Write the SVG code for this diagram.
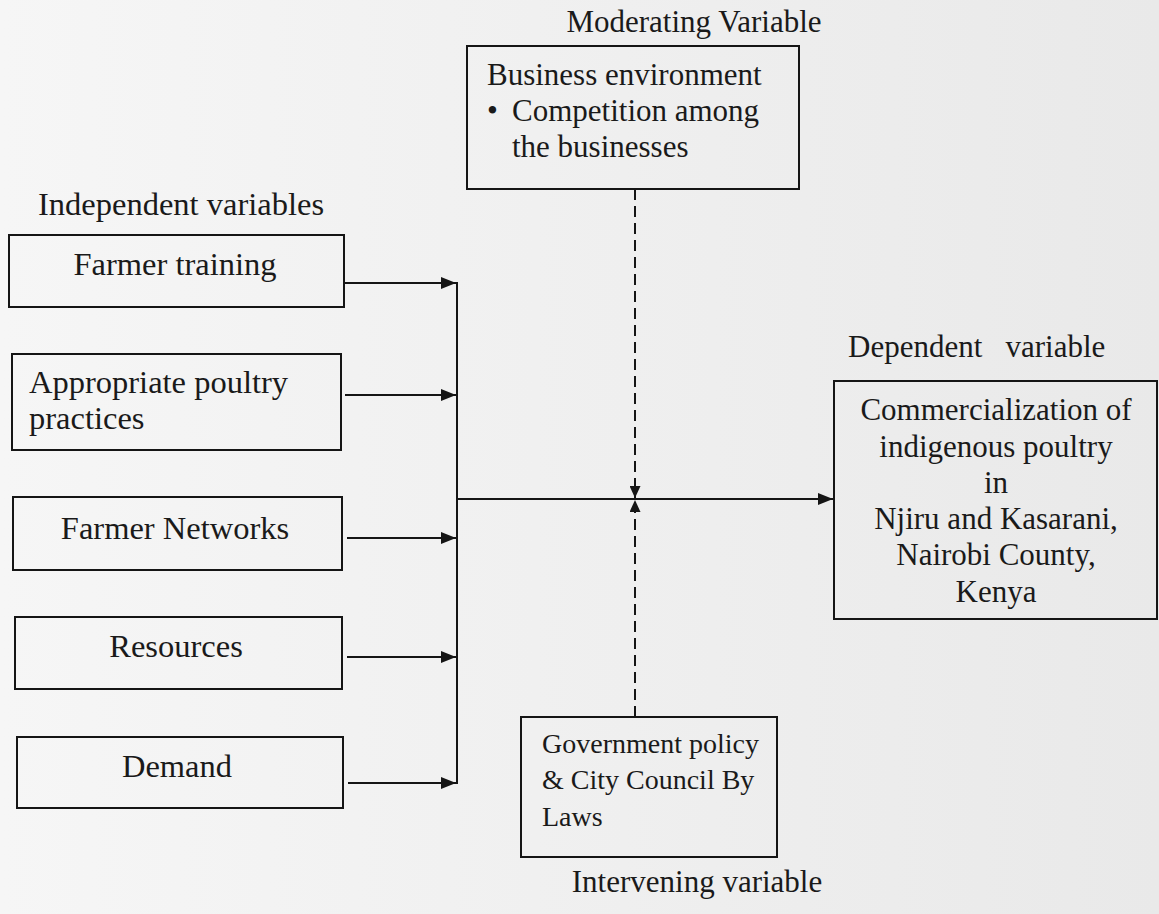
<svg xmlns="http://www.w3.org/2000/svg" width="1159" height="914" viewBox="0 0 1159 914">
<style>
  text { font-family: "Liberation Serif", "Times New Roman", serif; font-size: 31px; fill: #1a1a1a; }
  .c { text-anchor: middle; }
  .big { font-size: 32.5px; }
  .sm { font-size: 28px; }
  .box { fill: none; stroke: #151515; stroke-width: 2; }
  .ln { fill: none; stroke: #151515; stroke-width: 2; }
  .dash { fill: none; stroke: #151515; stroke-width: 2; stroke-dasharray: 11 6; }
</style>
<defs>
  <linearGradient id="bg" x1="0" y1="0" x2="1" y2="0">
    <stop offset="0" stop-color="#f6f6f6"/>
    <stop offset="1" stop-color="#e9e9e9"/>
  </linearGradient>
  <marker id="ah" viewBox="0 0 15 12" refX="15" refY="6" markerWidth="15" markerHeight="12" markerUnits="userSpaceOnUse" orient="auto">
    <path d="M0,0 L15,6 L0,12 Z" fill="#151515"/>
  </marker>
  <marker id="ahs" viewBox="0 0 12 11" refX="12" refY="5.5" markerWidth="12" markerHeight="11" markerUnits="userSpaceOnUse" orient="auto">
    <path d="M0,0 L12,5.5 L0,11 Z" fill="#151515"/>
  </marker>
</defs>
<rect x="0" y="0" width="1159" height="914" fill="url(#bg)"/>

<text x="694" y="32" class="c">Moderating Variable</text>
<text x="38" y="215" class="big">Independent variables</text>
<text x="848" y="357" xml:space="preserve">Dependent   variable</text>
<text x="697" y="892" class="c">Intervening variable</text>

<g id="moderating">
  <rect class="box" x="467" y="46" width="332" height="143"/>
  <text x="487" y="85">Business environment</text>
  <text x="487" y="121">•</text>
  <text x="512" y="121">Competition among</text>
  <text x="512" y="157">the businesses</text>
</g>

<g id="farmer-training">
  <rect class="box" x="9" y="235" width="335" height="72"/>
  <text x="175" y="275" class="c big">Farmer training</text>
</g>
<g id="poultry-practices">
  <rect class="box" x="12" y="354" width="329" height="96"/>
  <text x="29" y="393" class="big">Appropriate poultry</text>
  <text x="29" y="429" class="big">practices</text>
</g>
<g id="farmer-networks">
  <rect class="box" x="13" y="497" width="329" height="73"/>
  <text x="175" y="539" class="c big">Farmer Networks</text>
</g>
<g id="resources">
  <rect class="box" x="15" y="617" width="327" height="72"/>
  <text x="176" y="657" class="c big">Resources</text>
</g>
<g id="demand">
  <rect class="box" x="17" y="737" width="326" height="71"/>
  <text x="177" y="777" class="c big">Demand</text>
</g>

<g id="dependent">
  <rect class="box" x="834" y="381" width="323" height="238"/>
  <text x="996" y="420" class="c">Commercialization of</text>
  <text x="996" y="457" class="c">indigenous poultry</text>
  <text x="996" y="493" class="c">in</text>
  <text x="996" y="529" class="c">Njiru and Kasarani,</text>
  <text x="996" y="565" class="c">Nairobi County,</text>
  <text x="996" y="602" class="c">Kenya</text>
</g>

<g id="intervening">
  <rect class="box" x="521" y="717" width="256" height="140"/>
  <text x="542" y="753" class="sm">Government policy</text>
  <text x="542" y="789" class="sm">&amp; City Council By</text>
  <text x="542" y="826" class="sm">Laws</text>
</g>

<g id="connectors">
  <line class="ln" x1="345" y1="283" x2="456" y2="283" marker-end="url(#ah)"/>
  <line class="ln" x1="345" y1="395" x2="456" y2="395" marker-end="url(#ah)"/>
  <line class="ln" x1="347" y1="538" x2="456" y2="538" marker-end="url(#ah)"/>
  <line class="ln" x1="347" y1="657" x2="456" y2="657" marker-end="url(#ah)"/>
  <line class="ln" x1="348" y1="783" x2="456" y2="783" marker-end="url(#ah)"/>
  <line class="ln" x1="457" y1="282" x2="457" y2="784"/>
  <line class="ln" x1="457" y1="499" x2="833" y2="499" marker-end="url(#ah)"/>
  <line class="dash" x1="635" y1="189" x2="635" y2="498" marker-end="url(#ahs)"/>
  <line class="dash" x1="635" y1="717" x2="635" y2="500" marker-end="url(#ahs)"/>
</g>
</svg>
